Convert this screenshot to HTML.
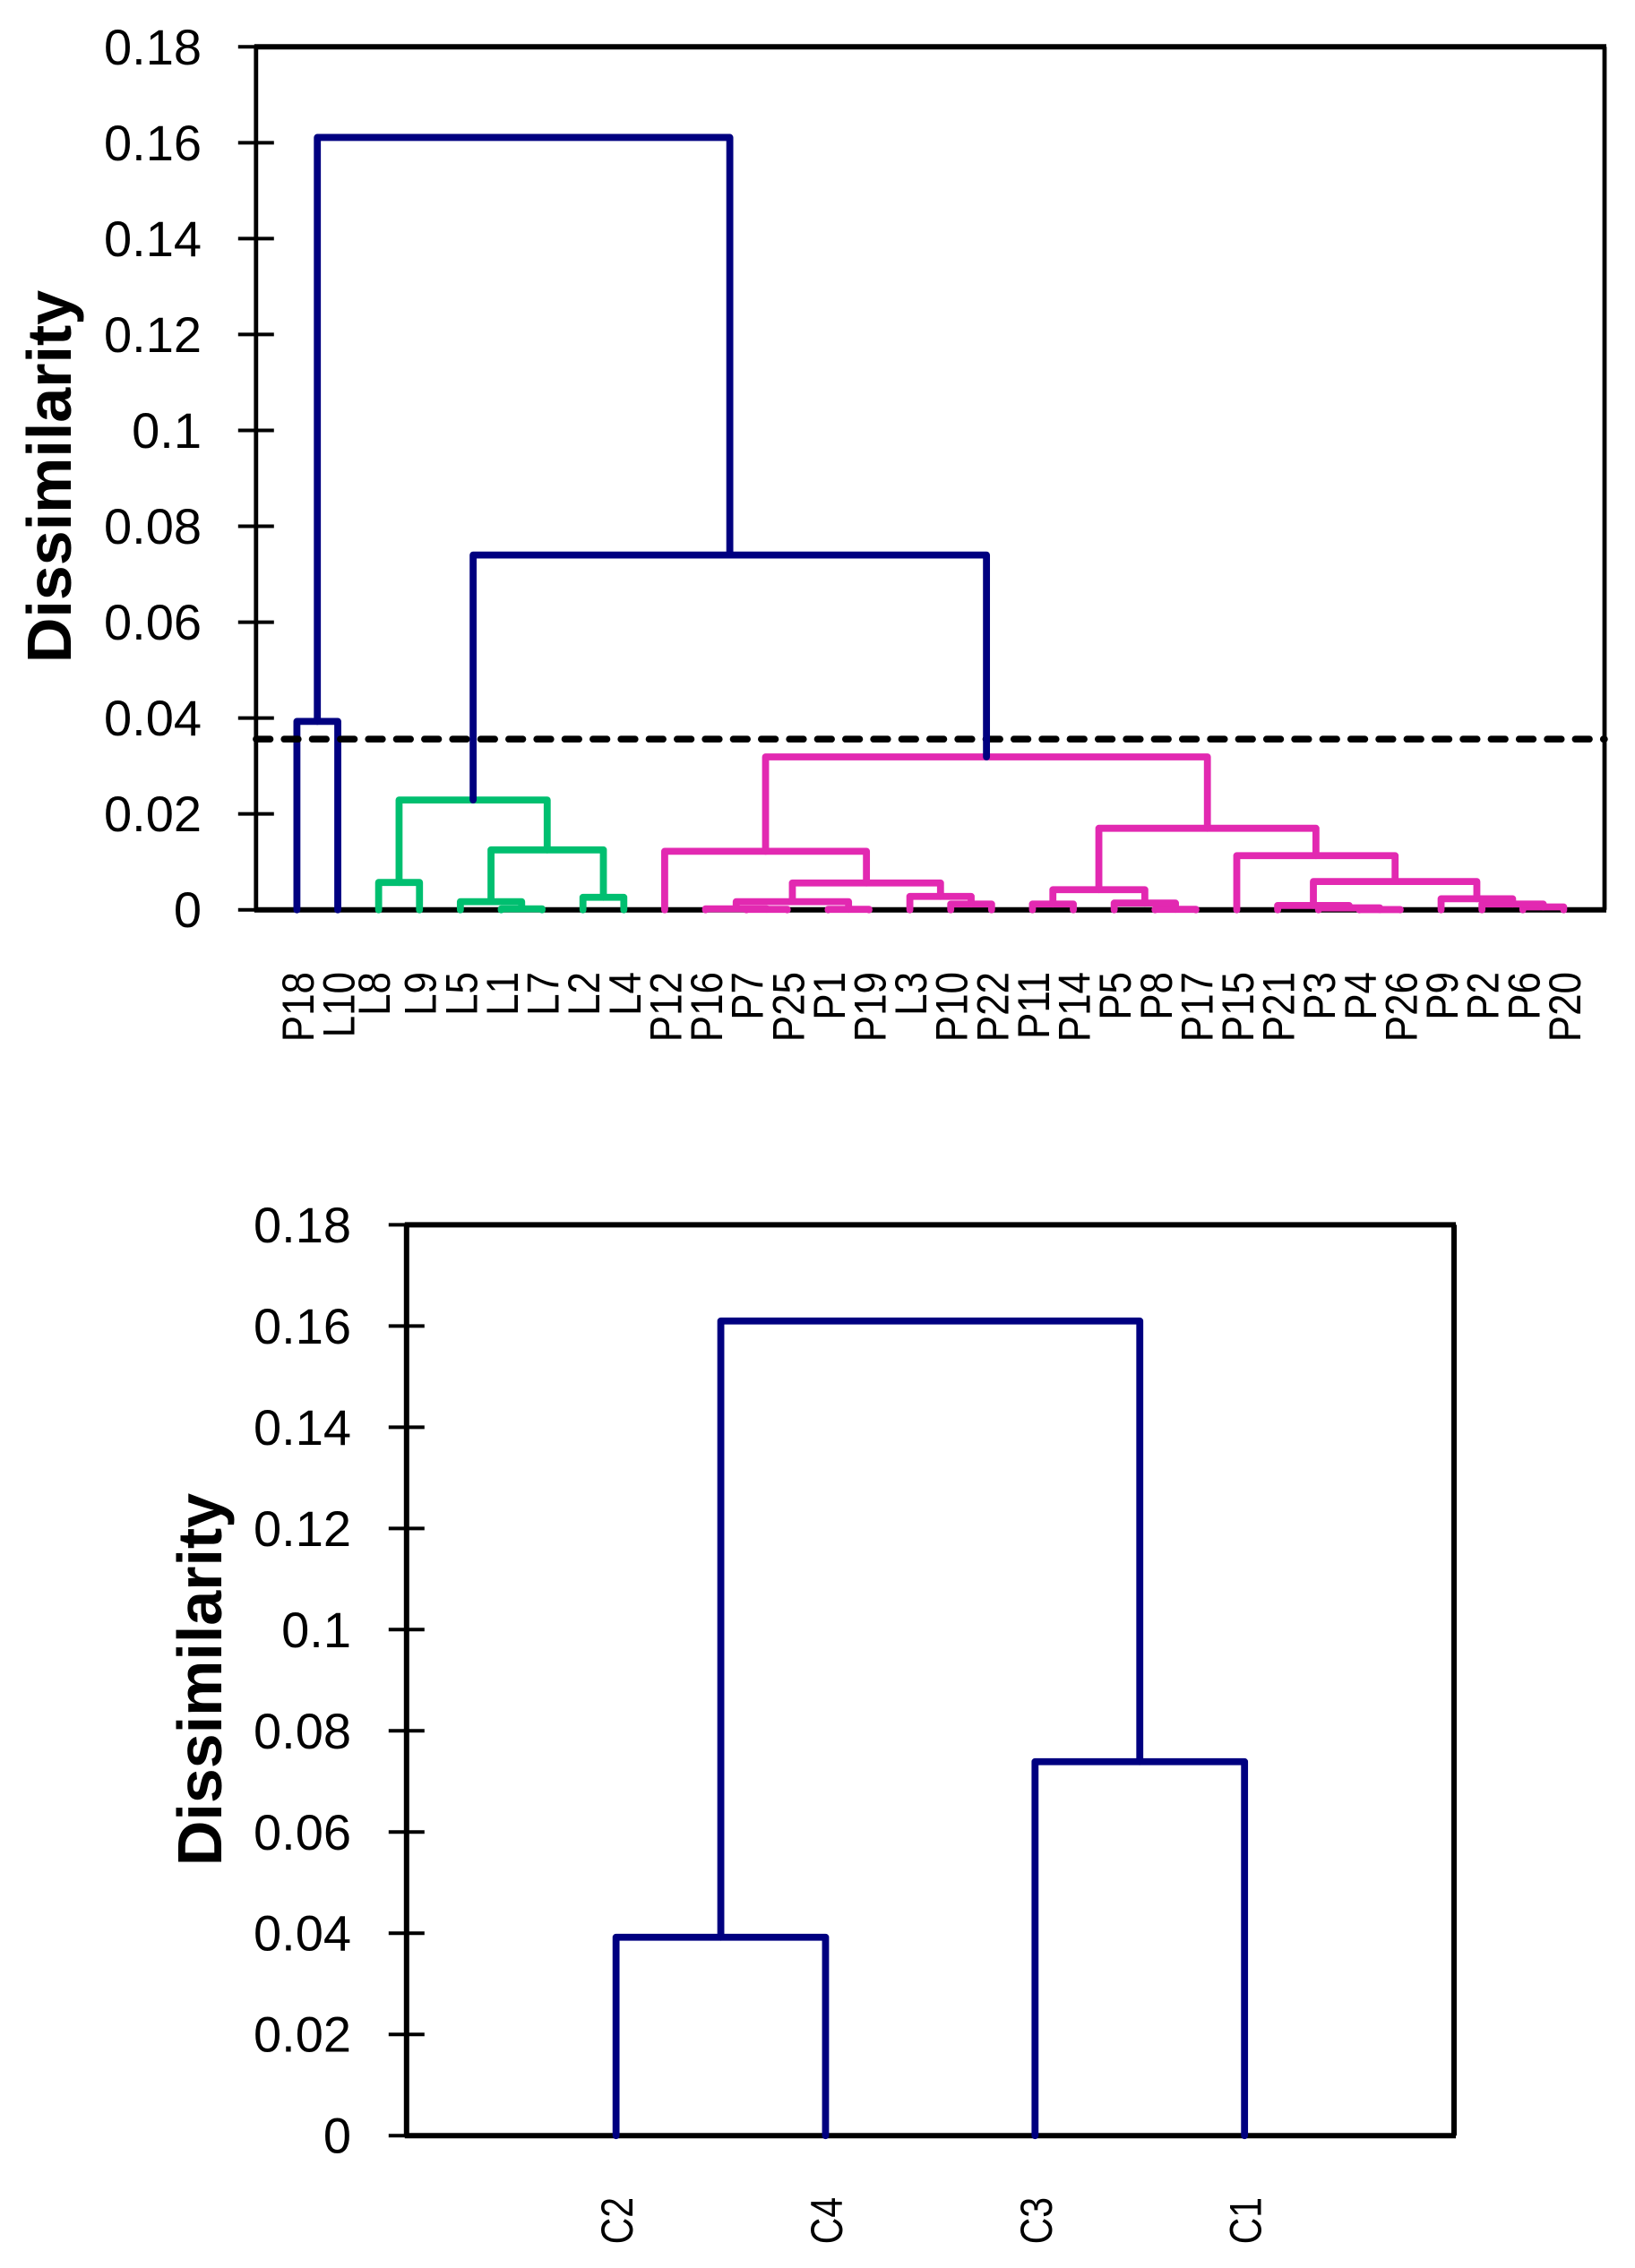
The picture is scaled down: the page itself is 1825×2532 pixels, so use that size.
<!DOCTYPE html>
<html lang="en">
<head>
<meta charset="utf-8">
<title>Dissimilarity dendrograms</title>
<style>
html,body{margin:0;padding:0;background:#fff;}
svg{display:block;}
text{font-family:"Liberation Sans",sans-serif;fill:#000;}
</style>
</head>
<body>
<svg id="figure" xmlns="http://www.w3.org/2000/svg" width="1825" height="2532" viewBox="0 0 1825 2532">
  <rect x="0" y="0" width="1825" height="2532" fill="#ffffff"/>
  <g id="chart-top"></g>
  <g id="chart-bottom"></g>
  <text transform="translate(79,532) rotate(-90)" text-anchor="middle" font-size="70" font-weight="700">Dissimilarity</text>
  <text transform="translate(247,1875) rotate(-90)" text-anchor="middle" font-size="70" font-weight="700">Dissimilarity</text>
</svg>
<script>
const tickValues = [0, 0.02, 0.04, 0.06, 0.08, 0.1, 0.12, 0.14, 0.16, 0.18];
const tickLabels = ["0", "0.02", "0.04", "0.06", "0.08", "0.1", "0.12", "0.14", "0.16", "0.18"];

const topLeaves = ["P18","L10","L8","L9","L5","L1","L7","L2","L4","P12","P16","P7","P25","P1","P19","L3","P10","P22","P11","P14","P5","P8","P17","P15","P21","P3","P4","P26","P9","P2","P6","P20"];
// Node ids: 0-31 are leaves, 32+k is the k-th merge.
const topMergeLeft = [0,2,5,4,7,35,33,11,10,13,40,16,15,42,9,18,21,20,47,26,25,24,30,29,28,53,23,50,46,38,32];
const topMergeRight = [1,3,6,34,8,36,37,12,39,14,41,17,43,44,45,19,22,48,49,27,51,52,31,54,55,56,57,58,59,60,61];
const topMergeHeight = [0.0393,0.0057,0.0002,0.0017,0.0026,0.0125,0.0229,0.0001,0.0002,0.0001,0.0017,0.0012,0.0028,0.0056,0.0122,0.0012,0.0001,0.0014,0.0042,0.00005,0.0004,0.0009,0.0006,0.0012,0.0023,0.0059,0.0113,0.017,0.0319,0.074,0.1611];
const topMergeGroup = ["navy","green","green","green","green","green","green","pink","pink","pink","pink","pink","pink","pink","pink","pink","pink","pink","pink","pink","pink","pink","pink","pink","pink","pink","pink","pink","pink","navy","navy"];
const topCutoff = [0.0356];

const bottomLeaves = ["C2","C4","C3","C1"];
const bottomMergeLeft = [0,2,4];
const bottomMergeRight = [1,3,5];
const bottomMergeHeight = [0.0392,0.0739,0.161];
const bottomMergeGroup = ["navy","navy","navy"];
const bottomCutoff = [];

const NS = "http://www.w3.org/2000/svg";
const groupColors = {navy:"#000080", green:"#00BF70", pink:"#E229B1"};
const yMax = 0.18;

function make(parent, tag, attrs) {
  const el = document.createElementNS(NS, tag);
  for (const k in attrs) el.setAttribute(k, attrs[k]);
  parent.appendChild(el);
  return el;
}

function drawChart(root, box, leaves, mergeLeft, mergeRight, mergeHeight, mergeGroup, cutoff) {
  const xOf = i => box.left + (box.right - box.left) / (leaves.length + 1) * (i + 1);
  const yOf = v => box.bottom - (box.bottom - box.top) * v / yMax;

  // Frame
  const frameTop = make(root, "line", {x1:box.left - 2, y1:box.top, x2:box.right + 2, y2:box.top, stroke:"#000", "stroke-width":box.hWidth});
  
  
  const frameBottom = make(root, "line", {x1:box.left - 2, y1:box.bottom, x2:box.right + 2, y2:box.bottom, stroke:"#000", "stroke-width":box.hWidth});
  
  
  const frameLeft = make(root, "line", {x1:box.left, y1:box.top, x2:box.left, y2:box.bottom, stroke:"#000", "stroke-width":box.vWidth});
  
  
  const frameRight = make(root, "line", {x1:box.right, y1:box.top, x2:box.right, y2:box.bottom, stroke:"#000", "stroke-width":box.vWidth});
  
  

  // Y ticks and labels
  tickValues.forEach((v, i) => {
    const y = yOf(v);
    const inner = i > 0 && i < tickValues.length - 1;
    const tick = make(root, "line", {x1:box.left - 20, y1:y, x2:inner ? box.left + 20 : box.left, y2:y, stroke:"#000", "stroke-width":4});
    
    
    const label = make(root, "text", {x:box.labelRight, y:y + 19.5, "text-anchor":"end", "font-size":56});
    
    
    label.textContent = tickLabels[i];
  });

  // The cut-off line sits above the first clusters and below the last two links
  function drawCutoff() {
    cutoff.forEach(v => {
      const cut = make(root, "line", {
        x1:box.left, y1:yOf(v), x2:box.right, y2:yOf(v),
        stroke:"#000", "stroke-width":7.5, "stroke-linecap":"round", "stroke-dasharray":"15.8 15.53"
      });
      
      
    });
  }

  // Merges: each is a bracket joining two children at its height
  const nodeX = leaves.map((_, i) => xOf(i));
  const nodeH = leaves.map(() => 0);
  mergeHeight.forEach((h, k) => {
    if (k === mergeHeight.length - 2) drawCutoff();
    const a = mergeLeft[k], b = mergeRight[k];
    const xa = nodeX[a], xb = nodeX[b];
    const path = make(root, "path", {
      d: "M" + xa + " " + yOf(nodeH[a]) + " V" + yOf(h) + " H" + xb + " V" + yOf(nodeH[b]),
      fill:"none",
      stroke:groupColors[mergeGroup[k]],
      "stroke-width":box.lineWidth,
      "stroke-linecap":"round",
      "stroke-linejoin":"round"
    });
    
    
    nodeX.push((xa + xb) / 2);
    nodeH.push(h);
  });

  // Leaf labels
  leaves.forEach((name, i) => {
    const shift = name === "L8" ? -5 : 1;
    const label = make(root, "text", {
      transform: "translate(" + (xOf(i) + shift + 17.5) + "," + box.leafLabelTop + ") rotate(-90) scale(" + box.leafScale + ",1)",
      "text-anchor":"end",
      "font-size":50
    });
    
    
    label.textContent = name;
  });
}

drawChart(
  document.getElementById("chart-top"),
  {left:285.8, right:1791, top:52.3, bottom:1015.7, labelRight:225, hWidth:6, vWidth:4.8, lineWidth:7.8, leafLabelTop:1085, leafScale:0.88},
  topLeaves, topMergeLeft, topMergeRight, topMergeHeight, topMergeGroup, topCutoff
);
drawChart(
  document.getElementById("chart-bottom"),
  {left:453.8, right:1623, top:1367.4, bottom:2384.2, labelRight:392, hWidth:6, vWidth:6, lineWidth:7.8, leafLabelTop:2453, leafScale:0.82},
  bottomLeaves, bottomMergeLeft, bottomMergeRight, bottomMergeHeight, bottomMergeGroup, bottomCutoff
);
</script>
</body>
</html>
